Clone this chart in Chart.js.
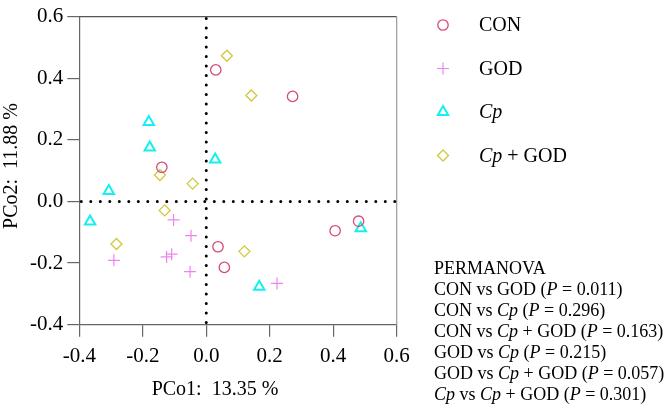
<!DOCTYPE html>
<html>
<head>
<meta charset="utf-8">
<script src="https://cdn.jsdelivr.net/npm/chart.js@4.4.0/dist/chart.umd.min.js"></script>
<style>
  body { margin: 0; background: #fff; }
</style>
</head>
<body>
<canvas id="pcoa" width="666" height="408"></canvas>
<script>
// PCoA scores
var conX = [0.030, -0.140, 0.272, 0.037, 0.057, 0.406, 0.480];
var conY = [0.427, 0.111, 0.341, -0.147, -0.214, -0.095, -0.064];
var godX = [-0.103, -0.048, -0.109, -0.125, -0.291, -0.051, 0.223];
var godY = [-0.060, -0.111, -0.171, -0.180, -0.191, -0.228, -0.266];
var cpX = [-0.181, -0.178, 0.028, -0.307, -0.366, 0.167, 0.487];
var cpY = [0.258, 0.175, 0.136, 0.034, -0.065, -0.277, -0.087];
var cpgX = [0.065, 0.142, -0.146, -0.043, -0.131, -0.283, 0.120];
var cpgY = [0.473, 0.344, 0.086, 0.058, -0.029, -0.138, -0.162];

var groupNames = ['CON', 'GOD', '*Cp*', '*Cp* + GOD'];
var xTicks = [-0.4, -0.2, 0.0, 0.2, 0.4, 0.6];
var yTicks = [-0.4, -0.2, 0.0, 0.2, 0.4, 0.6];
var xTitle = 'PCo1:  13.35 %';
var yTitle = 'PCo2:  11.88 %';
var permPairs = ['CON vs GOD', 'CON vs *Cp*', 'CON vs *Cp* + GOD', 'GOD vs *Cp*', 'GOD vs *Cp* + GOD', '*Cp* vs *Cp* + GOD'];
var permP = ['0.011', '0.296', '0.163', '0.215', '0.057', '0.301'];

var FONT = "'Liberation Serif', 'Times New Roman', serif";

function pts(xs, ys) {
  return xs.map(function(x, i) { return {x: x, y: ys[i]}; });
}

// text with *italic* parts
function drawRich(ctx, str, x, y, size) {
  var parts = str.split('*');
  for (var i = 0; i < parts.length; i++) {
    ctx.font = (i % 2 ? 'italic ' : '') + size + 'px ' + FONT;
    ctx.fillText(parts[i], x, y);
    x += ctx.measureText(parts[i]).width;
  }
}

var extras = {
  id: 'extras',
  beforeDatasetsDraw: function(chart) {
    var ctx = chart.ctx, a = chart.chartArea;
    var x0 = chart.scales.x.getPixelForValue(0);
    var y0 = chart.scales.y.getPixelForValue(0);
    ctx.save();
    // box top and right
    ctx.lineWidth = 1.2;
    ctx.strokeStyle = '#555';
    ctx.beginPath();
    ctx.moveTo(a.left, a.top);
    ctx.lineTo(a.right, a.top);
    ctx.stroke();
    ctx.strokeStyle = '#999';
    ctx.beginPath();
    ctx.moveTo(a.right, a.top);
    ctx.lineTo(a.right, a.bottom);
    ctx.stroke();
    // dotted zero lines
    ctx.strokeStyle = '#000';
    ctx.lineWidth = 3;
    ctx.lineCap = 'round';
    ctx.setLineDash([0, 9.5]);
    ctx.beginPath();
    ctx.moveTo(x0, a.top + 2);
    ctx.lineTo(x0, a.bottom - 2);
    ctx.stroke();
    ctx.beginPath();
    ctx.moveTo(a.left + 2, y0);
    ctx.lineTo(a.right, y0);
    ctx.stroke();
    ctx.restore();
  },
  afterDraw: function(chart) {
    var ctx = chart.ctx;
    ctx.save();
    ctx.fillStyle = '#000';
    ctx.textBaseline = 'middle';
    // axis titles
    ctx.font = '20px ' + FONT;
    ctx.textAlign = 'center';
    ctx.fillText(xTitle, 215, 390);
    ctx.save();
    ctx.translate(12, 166);
    ctx.rotate(-Math.PI / 2);
    ctx.fillText(yTitle, 0, 0);
    ctx.restore();
    // legend
    ctx.textAlign = 'left';
    chart.data.datasets.forEach(function(ds, i) {
      var y = 25 + i * 43.5;
      ctx.save();
      ctx.strokeStyle = ds.borderColor;
      ctx.fillStyle = 'rgba(0,0,0,0)';
      ctx.lineWidth = ds.borderWidth;
      Chart.helpers.drawPoint(ctx, {pointStyle: ds.pointStyle, rotation: 0, radius: ds.pointRadius, borderWidth: ds.borderWidth}, 443, y);
      ctx.restore();
      ctx.fillStyle = '#000';
      drawRich(ctx, groupNames[i], 479, y + 1, 20);
    });
    // PERMANOVA block
    drawRich(ctx, 'PERMANOVA', 434, 269, 18);
    permPairs.forEach(function(p, i) {
      drawRich(ctx, p + ' (*P* = ' + permP[i] + ')', 434, 290 + i * 21, 18);
    });
    ctx.restore();
  }
};

var tickFont = {family: FONT, size: 21};

new Chart(document.getElementById('pcoa').getContext('2d'), {
  type: 'scatter',
  data: {
    datasets: [
      {label: 'CON', data: pts(conX, conY), pointStyle: 'circle', pointRadius: 5.2, borderColor: '#d44a7a', backgroundColor: 'rgba(0,0,0,0)', borderWidth: 1.3},
      {label: 'GOD', data: pts(godX, godY), pointStyle: 'cross', pointRadius: 6, borderColor: '#ee85ee', backgroundColor: 'rgba(0,0,0,0)', borderWidth: 1.2},
      {label: 'Cp', data: pts(cpX, cpY), pointStyle: 'triangle', pointRadius: 6, borderColor: '#14f0f0', backgroundColor: 'rgba(0,0,0,0)', borderWidth: 2},
      {label: 'Cp + GOD', data: pts(cpgX, cpgY), pointStyle: 'rectRot', pointRadius: 5.5, borderColor: '#d2c83e', backgroundColor: 'rgba(0,0,0,0)', borderWidth: 1.3}
    ]
  },
  options: {
    responsive: false,
    animation: false,
    layout: {padding: {left: 0, top: 6.7, right: 269.3, bottom: 0}},
    plugins: {legend: {display: false}, tooltip: {enabled: false}},
    scales: {
      x: {
        type: 'linear', min: -0.4, max: 0.6,
        afterBuildTicks: function(s) { s.ticks = xTicks.map(function(v) { return {value: v}; }); },
        afterFit: function(s) { s.height = 83.3; },
        ticks: {color: '#000', font: tickFont, padding: 7, maxRotation: 0,
          callback: function(v) { return v.toFixed(1); }},
        grid: {drawOnChartArea: false, drawTicks: true, tickLength: 12, color: '#666', lineWidth: 1.2},
        border: {display: true, color: '#666', width: 1.2}
      },
      y: {
        type: 'linear', min: -0.4, max: 0.6,
        afterBuildTicks: function(s) { s.ticks = yTicks.map(function(v) { return {value: v}; }); },
        afterFit: function(s) { s.width = 79.3; },
        ticks: {color: '#000', font: tickFont, padding: 4,
          callback: function(v) { return v.toFixed(1); }},
        grid: {drawOnChartArea: false, drawTicks: true, tickLength: 12, color: '#666', lineWidth: 1.2},
        border: {display: true, color: '#666', width: 1.2}
      }
    }
  },
  plugins: [extras]
});
</script>
</body>
</html>
